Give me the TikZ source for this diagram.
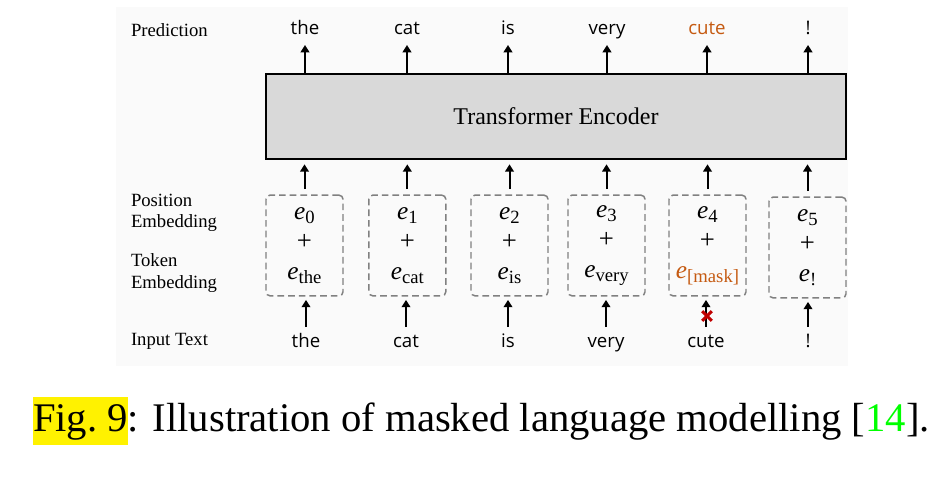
\documentclass[tikz,border=0pt]{standalone}
\usepackage{fontspec}
\setmainfont{Liberation Serif}
\newfontfamily\wordfont{Open Sans}
\usetikzlibrary{arrows.meta}
\definecolor{maskorange}{RGB}{197,90,17}
\definecolor{crossred}{RGB}{192,0,0}
\definecolor{encgray}{RGB}{217,217,217}
\definecolor{citegreen}{RGB}{0,255,0}
\newcommand{\embvec}[1]{\textit{e}\raisebox{-3.2pt}{\fontsize{14}{16}\selectfont #1}}
\newcommand{\embplus}{{\fontsize{20}{22}\selectfont +}}
\begin{document}
\begin{tikzpicture}[x=0.75pt,y=-0.75pt,line width=1.5pt,
  every node/.style={inner sep=0pt},
  lbl/.style={anchor=base west,font=\fontsize{14}{16}\selectfont},
  word/.style={anchor=base,font=\wordfont\fontsize{14}{16}\selectfont},
  embbox/.style={draw=black!50,line width=1.1pt,dash pattern=on 5pt off 3pt,rounded corners=3pt,
    minimum width=57.75pt,minimum height=75.5pt,align=center,font=\fontsize{19}{22.5}\selectfont},
  up/.style={-{Triangle[width=6.5pt,length=5.5pt]}}]
\useasboundingbox (0,0) rectangle (952,477);
\path[fill=black!2] (116,7) rectangle (848,366);
% row labels
\node[lbl] (predlbl) at (130,37) {Prediction};
\node[lbl] (poslbl) at (130,207) {Position};
\node[lbl] (poslbl2) at (130,228) {Embedding};
\node[lbl] (toklbl) at (130,267) {Token};
\node[lbl] (toklbl2) at (130,288) {Embedding};
\node[lbl] (inlbl) at (130,345) {Input Text};
% encoder
\node[draw,fill=encgray,line width=2pt,minimum width=435pt,minimum height=63.75pt,
  font=\fontsize{18}{20}\selectfont] (enc) at (556,116.5) {Transformer Encoder};
% predictions
\node[word] (p0) at (305,35) {the};
\node[word] (p1) at (407,35) {cat};
\node[word] (p2) at (508,35) {is};
\node[word] (p3) at (607,35) {very};
\node[word,text=maskorange] (p4) at (707,35) {cute};
\node[word] (p5) at (808,35) {!};
% embeddings
\node[embbox] (b0) at (304.5,245.5) {\embvec{0}\\\embplus\\\embvec{the}};
\node[embbox] (b1) at (407.3,245.5) {\embvec{1}\\\embplus\\\embvec{cat}};
\node[embbox] (b2) at (509.5,245.5) {\embvec{2}\\\embplus\\\embvec{is}};
\node[embbox] (b3) at (606.5,245.5) {\embvec{3}\\\embplus\\\embvec{very}};
\node[embbox] (b4) at (707.5,245.5) {\embvec{4}\\\embplus\\\textcolor{maskorange}{\embvec{[mask]}}};
\node[embbox] (b5) at (807.5,247.5) {\embvec{5}\\\embplus\\\embvec{!}};
% inputs
\node[word] (i0) at (306,347) {the};
\node[word] (i1) at (406,347) {cat};
\node[word] (i2) at (508,347) {is};
\node[word] (i3) at (606,347) {very};
\node[word] (i4) at (706,347) {cute};
\node[word] (i5) at (808,347) {!};
% arrows
\draw[up] (enc.north -| p0) -- ([yshift=-7.5pt]p0.base);
\draw[up] (enc.north -| p1) -- ([yshift=-7.5pt]p1.base);
\draw[up] (enc.north -| p2) -- ([yshift=-7.5pt]p2.base);
\draw[up] (enc.north -| p3) -- ([yshift=-7.5pt]p3.base);
\draw[up] (enc.north -| p4) -- ([yshift=-7.5pt]p4.base);
\draw[up] (enc.north -| p5) -- ([yshift=-7.5pt]p5.base);
\draw[up,shorten <=4pt,shorten >=3pt] (b0.north) -- (b0 |- enc.south);
\draw[up,shorten <=4pt,shorten >=3pt] (b1.north) -- (b1 |- enc.south);
\draw[up,shorten <=4pt,shorten >=3pt] (b2.north) -- (b2 |- enc.south);
\draw[up,shorten <=4pt,shorten >=3pt] (b3.north) -- (b3 |- enc.south);
\draw[up,shorten <=4pt,shorten >=3pt] (b4.north) -- (b4 |- enc.south);
\draw[up,shorten <=4pt,shorten >=3pt] (b5.north) -- (b5 |- enc.south);
\draw[up,shorten >=2.5pt] ([yshift=15pt]i0.base) -- (i0 |- b0.south);
\draw[up,shorten >=2.5pt] ([yshift=15pt]i1.base) -- (i1 |- b1.south);
\draw[up,shorten >=2.5pt] ([yshift=15pt]i2.base) -- (i2 |- b2.south);
\draw[up,shorten >=2.5pt] ([yshift=15pt]i3.base) -- (i3 |- b3.south);
\draw[up,shorten >=2.5pt] ([yshift=15pt]i4.base) -- (i4 |- b4.south);
\draw[up,shorten >=2.5pt] ([yshift=15pt]i5.base) -- (i5 |- b5.south);
% masked input
\coordinate (mask) at (707,316);
\draw[crossred,line width=2.2pt] ([shift={(-3.6pt,-3.6pt)}]mask) -- ([shift={(3.6pt,3.6pt)}]mask)
  ([shift={(-3.6pt,3.6pt)}]mask) -- ([shift={(3.6pt,-3.6pt)}]mask);
% caption
\node[anchor=base west,font=\fontsize{30.5}{36}\selectfont] (caption) at (32,431)
  {{\setlength{\fboxsep}{0pt}\colorbox{yellow}{\strut Fig.~9}}: Illustration of masked language modelling [\textcolor{citegreen}{14}].};
\end{tikzpicture}
\end{document}
